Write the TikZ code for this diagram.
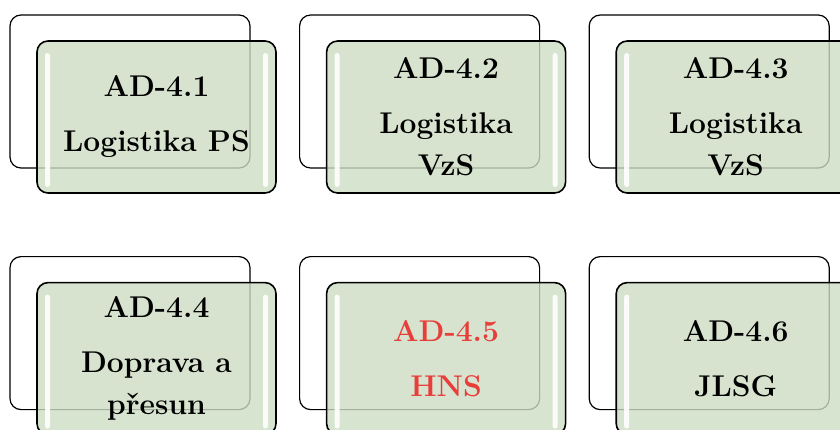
\documentclass[tikz,border=0pt]{standalone}
\usetikzlibrary{positioning, backgrounds}
\definecolor{cardgreen}{RGB}{205,221,195}
\definecolor{hnsred}{RGB}{232,62,58}
\newcommand{\adnum}[1]{AD-4.#1\\[13pt]}

\begin{document}
\begin{tikzpicture}[x=1pt, y=-1pt,
			node distance=88pt and 49pt,
			card/.style={rectangle, draw=black, line width=1.6pt, rounded corners=11pt,
				minimum width=239pt, minimum height=152pt, inner sep=0pt, align=center,
				fill=cardgreen, fill opacity=0.8, text opacity=1,
				font=\fontsize{30}{42}\selectfont\bfseries,
				path picture={
					\fill[white, fill opacity=0.9, rounded corners=2.5pt]
						([xshift=8pt,yshift=-12pt]path picture bounding box.north west)
						rectangle ([xshift=13pt,yshift=6pt]path picture bounding box.south west);
					\fill[white, fill opacity=0.9, rounded corners=2.5pt]
						([xshift=-13pt,yshift=-12pt]path picture bounding box.north east)
						rectangle ([xshift=-8pt,yshift=6pt]path picture bounding box.south east);
				}},
			backcard/.style={rectangle, draw=black, line width=1.2pt, rounded corners=11pt,
				fill=white, minimum width=240pt, minimum height=153pt, inner sep=0pt},
			shadowpos/.style={xshift=-26.5pt, yshift=25.5pt}
		]
			\useasboundingbox (0,0) rectangle (840,429);
			\node[card] (ad1) at (156.5,117) {\adnum{1}Logistika PS};
			\node[card, right=of ad1] (ad2) {\adnum{2}Logistika\\VzS};
			\node[card, right=of ad2] (ad3) {\adnum{3}Logistika\\VzS};
			\node[card, below=of ad1] (ad4) {\adnum{4}Doprava a\\přesun};
			\node[card, right=of ad4, text=hnsred] (ad5) {\adnum{5}HNS};
			\node[card, right=of ad5] (ad6) {\adnum{6}JLSG};
			\begin{scope}[on background layer]
				\node[backcard] (bk1) at ([shadowpos]ad1.center) {};
				\node[backcard] (bk2) at ([shadowpos]ad2.center) {};
				\node[backcard] (bk3) at ([shadowpos]ad3.center) {};
				\node[backcard] (bk4) at ([shadowpos]ad4.center) {};
				\node[backcard] (bk5) at ([shadowpos]ad5.center) {};
				\node[backcard] (bk6) at ([shadowpos]ad6.center) {};
			\end{scope}
		\end{tikzpicture}
\end{document}
